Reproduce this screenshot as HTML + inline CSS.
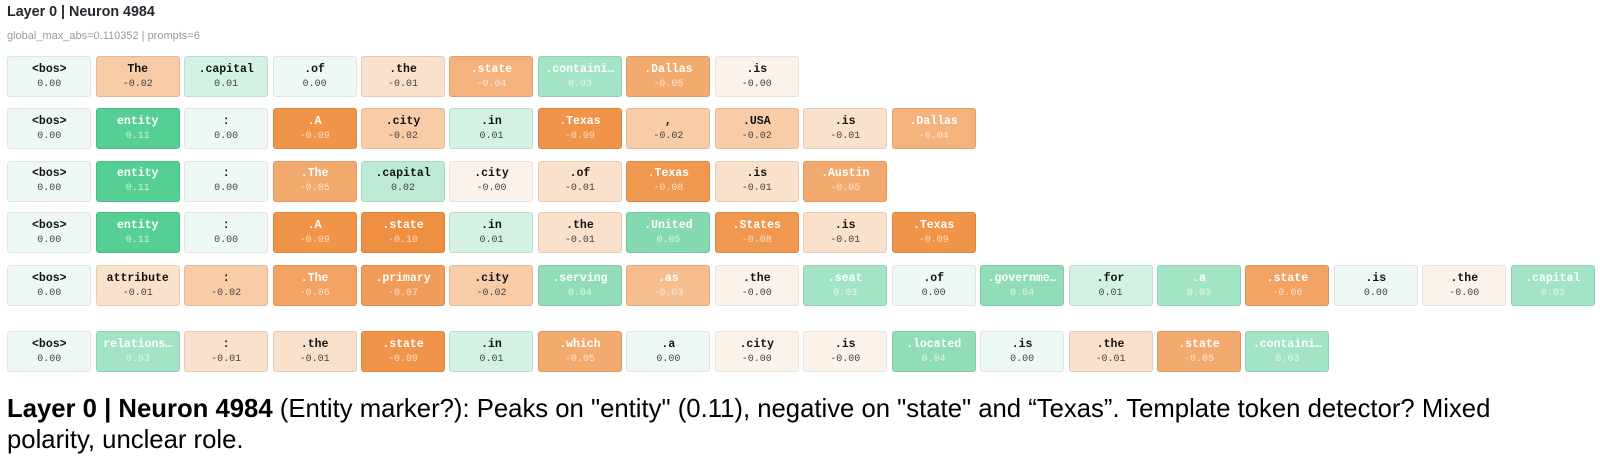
<!DOCTYPE html>
<html>
<head>
<meta charset="utf-8">
<style>
  html, body { margin:0; padding:0; background:#ffffff; }
  body { width:1600px; height:470px; position:relative; overflow:hidden; font-family:"Liberation Sans", Arial, sans-serif; }
  .title { position:absolute; left:7px; top:3px; font-weight:bold; font-size:14.3px; line-height:18px; color:#262730; white-space:nowrap; }
  .sub { position:absolute; left:7px; top:29px; font-size:11px; line-height:14px; color:#9a9a9a; white-space:nowrap; }
  .row { position:absolute; left:7.3px; display:flex; gap:4.45px; }
  .c { position:relative; width:84px; height:41px; box-sizing:border-box; border:1px solid rgba(0,0,0,0.09); border-radius:3px; flex:none; }
  .t { position:absolute; top:5.5px; left:0; right:0; text-align:center; font-family:"Liberation Mono", "DejaVu Sans Mono", monospace; font-weight:bold; font-size:11.5px; line-height:14px; color:#111; white-space:nowrap; }
  .v { position:absolute; top:21.5px; left:0; right:0; text-align:center; font-family:"Liberation Mono", "DejaVu Sans Mono", monospace; font-size:10px; line-height:12px; color:#444; white-space:nowrap; }
  .d .t { color:#ffffff; }
  .d .v { color:rgba(255,255,255,0.7); }
  .g0 { background:#eff9f4; border-color:#e0e4e2; }
  .g1 { background:#d3f2e4; }
  .g2 { background:#bdebd6; }
  .g3 { background:#a3e3c6; }
  .g4 { background:#91ddb9; }
  .g5 { background:#84d9b1; }
  .g11 { background:#55cf93; }
  .o0 { background:#fbf2ea; border-color:#e6e2df; }
  .o1 { background:#fae1cc; }
  .o2 { background:#f8cca7; }
  .o3 { background:#f6be8e; }
  .o4 { background:#f4b27c; }
  .o5 { background:#f3aa6e; }
  .o6 { background:#f2a263; }
  .o7 { background:#f19c58; }
  .o8 { background:#f0984f; }
  .o9 { background:#f0944a; }
  .o10 { background:#ef8f42; }
  .cap { position:absolute; left:7px; top:394px; width:1585px; font-size:25.7px; line-height:31px; color:#000; }
</style>
</head>
<body>
<div class="title">Layer 0 | Neuron 4984</div>
<div class="sub">global_max_abs=0.110352 | prompts=6</div>

<div class="row" style="top:56px;">
  <div class="c g0"><div class="t">&lt;bos&gt;</div><div class="v">0.00</div></div>
  <div class="c o2"><div class="t">The</div><div class="v">-0.02</div></div>
  <div class="c g1"><div class="t">.capital</div><div class="v">0.01</div></div>
  <div class="c g0"><div class="t">.of</div><div class="v">0.00</div></div>
  <div class="c o1"><div class="t">.the</div><div class="v">-0.01</div></div>
  <div class="c o4 d"><div class="t">.state</div><div class="v">-0.04</div></div>
  <div class="c g3 d"><div class="t">.containi…</div><div class="v">0.03</div></div>
  <div class="c o5 d"><div class="t">.Dallas</div><div class="v">-0.05</div></div>
  <div class="c o0"><div class="t">.is</div><div class="v">-0.00</div></div>
</div>

<div class="row" style="top:108px;">
  <div class="c g0"><div class="t">&lt;bos&gt;</div><div class="v">0.00</div></div>
  <div class="c g11 d"><div class="t">entity</div><div class="v">0.11</div></div>
  <div class="c g0"><div class="t">:</div><div class="v">0.00</div></div>
  <div class="c o9 d"><div class="t">.A</div><div class="v">-0.09</div></div>
  <div class="c o2"><div class="t">.city</div><div class="v">-0.02</div></div>
  <div class="c g1"><div class="t">.in</div><div class="v">0.01</div></div>
  <div class="c o9 d"><div class="t">.Texas</div><div class="v">-0.09</div></div>
  <div class="c o2"><div class="t">,</div><div class="v">-0.02</div></div>
  <div class="c o2"><div class="t">.USA</div><div class="v">-0.02</div></div>
  <div class="c o1"><div class="t">.is</div><div class="v">-0.01</div></div>
  <div class="c o4 d"><div class="t">.Dallas</div><div class="v">-0.04</div></div>
</div>

<div class="row" style="top:160.5px;">
  <div class="c g0"><div class="t">&lt;bos&gt;</div><div class="v">0.00</div></div>
  <div class="c g11 d"><div class="t">entity</div><div class="v">0.11</div></div>
  <div class="c g0"><div class="t">:</div><div class="v">0.00</div></div>
  <div class="c o5 d"><div class="t">.The</div><div class="v">-0.05</div></div>
  <div class="c g2"><div class="t">.capital</div><div class="v">0.02</div></div>
  <div class="c o0"><div class="t">.city</div><div class="v">-0.00</div></div>
  <div class="c o1"><div class="t">.of</div><div class="v">-0.01</div></div>
  <div class="c o8 d"><div class="t">.Texas</div><div class="v">-0.08</div></div>
  <div class="c o1"><div class="t">.is</div><div class="v">-0.01</div></div>
  <div class="c o5 d"><div class="t">.Austin</div><div class="v">-0.05</div></div>
</div>

<div class="row" style="top:212px;">
  <div class="c g0"><div class="t">&lt;bos&gt;</div><div class="v">0.00</div></div>
  <div class="c g11 d"><div class="t">entity</div><div class="v">0.11</div></div>
  <div class="c g0"><div class="t">:</div><div class="v">0.00</div></div>
  <div class="c o9 d"><div class="t">.A</div><div class="v">-0.09</div></div>
  <div class="c o10 d"><div class="t">.state</div><div class="v">-0.10</div></div>
  <div class="c g1"><div class="t">.in</div><div class="v">0.01</div></div>
  <div class="c o1"><div class="t">.the</div><div class="v">-0.01</div></div>
  <div class="c g5 d"><div class="t">.United</div><div class="v">0.05</div></div>
  <div class="c o8 d"><div class="t">.States</div><div class="v">-0.08</div></div>
  <div class="c o1"><div class="t">.is</div><div class="v">-0.01</div></div>
  <div class="c o9 d"><div class="t">.Texas</div><div class="v">-0.09</div></div>
</div>

<div class="row" style="top:265px;">
  <div class="c g0"><div class="t">&lt;bos&gt;</div><div class="v">0.00</div></div>
  <div class="c o1"><div class="t">attribute</div><div class="v">-0.01</div></div>
  <div class="c o2"><div class="t">:</div><div class="v">-0.02</div></div>
  <div class="c o6 d"><div class="t">.The</div><div class="v">-0.06</div></div>
  <div class="c o7 d"><div class="t">.primary</div><div class="v">-0.07</div></div>
  <div class="c o2"><div class="t">.city</div><div class="v">-0.02</div></div>
  <div class="c g4 d"><div class="t">.serving</div><div class="v">0.04</div></div>
  <div class="c o3 d"><div class="t">.as</div><div class="v">-0.03</div></div>
  <div class="c o0"><div class="t">.the</div><div class="v">-0.00</div></div>
  <div class="c g3 d"><div class="t">.seat</div><div class="v">0.03</div></div>
  <div class="c g0"><div class="t">.of</div><div class="v">0.00</div></div>
  <div class="c g4 d"><div class="t">.governme…</div><div class="v">0.04</div></div>
  <div class="c g1"><div class="t">.for</div><div class="v">0.01</div></div>
  <div class="c g3 d"><div class="t">.a</div><div class="v">0.03</div></div>
  <div class="c o6 d"><div class="t">.state</div><div class="v">-0.06</div></div>
  <div class="c g0"><div class="t">.is</div><div class="v">0.00</div></div>
  <div class="c o0"><div class="t">.the</div><div class="v">-0.00</div></div>
  <div class="c g3 d"><div class="t">.capital</div><div class="v">0.03</div></div>
</div>

<div class="row" style="top:331px;">
  <div class="c g0"><div class="t">&lt;bos&gt;</div><div class="v">0.00</div></div>
  <div class="c g3 d"><div class="t">relations…</div><div class="v">0.03</div></div>
  <div class="c o1"><div class="t">:</div><div class="v">-0.01</div></div>
  <div class="c o1"><div class="t">.the</div><div class="v">-0.01</div></div>
  <div class="c o9 d"><div class="t">.state</div><div class="v">-0.09</div></div>
  <div class="c g1"><div class="t">.in</div><div class="v">0.01</div></div>
  <div class="c o5 d"><div class="t">.which</div><div class="v">-0.05</div></div>
  <div class="c g0"><div class="t">.a</div><div class="v">0.00</div></div>
  <div class="c o0"><div class="t">.city</div><div class="v">-0.00</div></div>
  <div class="c o0"><div class="t">.is</div><div class="v">-0.00</div></div>
  <div class="c g4 d"><div class="t">.located</div><div class="v">0.04</div></div>
  <div class="c g0"><div class="t">.is</div><div class="v">0.00</div></div>
  <div class="c o1"><div class="t">.the</div><div class="v">-0.01</div></div>
  <div class="c o5 d"><div class="t">.state</div><div class="v">-0.05</div></div>
  <div class="c g3 d"><div class="t">.containi…</div><div class="v">0.03</div></div>
</div>

<div class="cap"><b>Layer 0 | Neuron 4984</b> (Entity marker?): Peaks on "entity" (0.11), negative on "state" and “Texas”. Template token detector? Mixed<br>polarity, unclear role.</div>
</body>
</html>
